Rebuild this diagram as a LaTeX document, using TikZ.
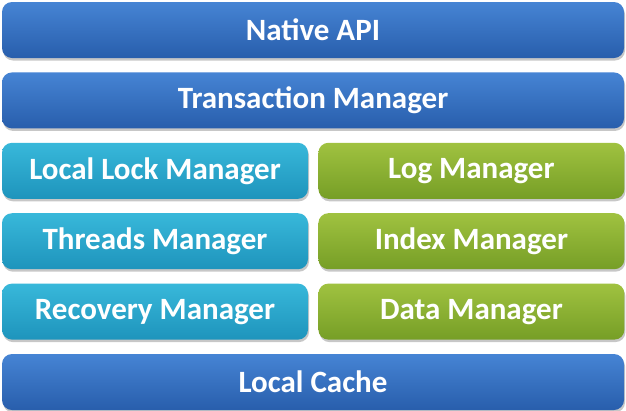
\documentclass[tikz,border=0pt]{standalone}
\usepackage{fontspec}
\setmainfont{Carlito}
\usepackage{tikz}
\usetikzlibrary{
  positioning,
  shadows
}
\definecolor{LayerBlueTop}{RGB}{70,132,212}
\definecolor{LayerBlueBot}{RGB}{40,94,172}
\definecolor{LayerCyanTop}{RGB}{56,184,218}
\definecolor{LayerCyanBot}{RGB}{30,148,188}
\definecolor{LayerGreenTop}{RGB}{160,194,64}
\definecolor{LayerGreenBot}{RGB}{118,158,38}
\tikzset{
  %%-- stack layers -------------------------------------------
  layer/.style = {
    rectangle, rounded corners = 10pt,
    draw = none, text = white,
    minimum height = 56pt, inner sep = 0pt,
    align = center, font = \bfseries\fontsize{31}{36}\selectfont,
    drop shadow = {shadow xshift = 1pt, shadow yshift = -2.5pt,
                   opacity = 0.22, fill = black}
  },
  wide/.style  = {layer, minimum width = 622pt},
  half/.style  = {layer, minimum width = 306pt},
  blue/.style  = {top color = LayerBlueTop,  bottom color = LayerBlueBot},
  cyan/.style  = {top color = LayerCyanTop,  bottom color = LayerCyanBot},
  green/.style = {top color = LayerGreenTop, bottom color = LayerGreenBot},
}
\begin{document}
\begin{tikzpicture}[x = 1pt, y = 1pt, node distance = 14pt and 10pt]
  \useasboundingbox[fill = white] (0,0) rectangle (626,-410);
  \node[wide, blue] (api) at (313,-30) {Native API};
  \node[wide, blue, below = of api] (trans) {Transaction Manager};
  %% left column
  \node[half, cyan, below right = 14pt and 0pt of trans.south west] (lock)
    {Local Lock Manager};
  \node[half, cyan, below = of lock] (threads) {Threads Manager};
  \node[half, cyan, below = of threads] (recov) {Recovery Manager};
  %% right column
  \node[half, green, right = of lock] (log) {Log Manager};
  \node[half, green, below = of log] (index) {Index Manager};
  \node[half, green, below = of index] (data) {Data Manager};
  \node[wide, blue, below = 14pt of recov.south west, anchor = north west]
    (cache) {Local Cache};
\end{tikzpicture}
\end{document}
